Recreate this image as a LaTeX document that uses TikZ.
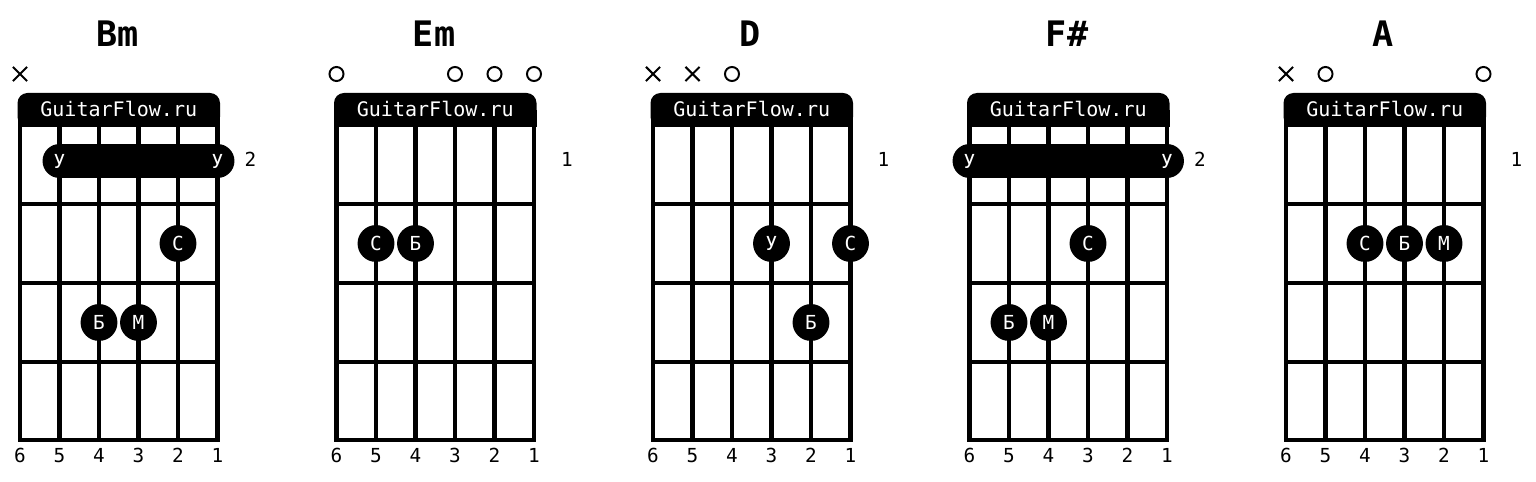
\documentclass[tikz,border=0pt]{standalone}
\usepackage{fontspec}
\setmonofont{DejaVu Sans Mono}
\usetikzlibrary{positioning}
\usetikzlibrary{shapes}

\tikzset{
  fretline/.style={black, line width=2.83pt, line cap=rect},
  finger/.style={circle, fill=black, text=white, inner sep=0pt, minimum size=21pt, font=\ttfamily\fontsize{11}{13}\selectfont},
  barre/.style={black, line width=19.3pt, line cap=round},
  barlabel/.style={text=white, inner sep=0pt, font=\ttfamily\fontsize{11}{13}\selectfont},
  open/.style={circle, draw=black, line width=1.1pt, inner sep=0pt, minimum size=8pt},
  mute/.style={cross out, draw=black, line width=1.2pt, inner sep=0pt, minimum size=6.8pt},
  chordname/.style={anchor=base, font=\ttfamily\bfseries\fontsize{20}{24}\selectfont},
  small/.style={anchor=base, inner sep=0pt, font=\ttfamily\fontsize{11}{13}\selectfont}
}

\begin{document}
\begin{tikzpicture}[x=0.02cm, y=-0.02cm]
\useasboundingbox (0,0) rectangle (1536,482);

%grids
\foreach \o/\name/\fret [count=\i] in {20/Bm/2, 336.5/Em/1, 653/D/1, 969.5/F\#/2, 1286/A/1} {
  \begin{scope}[shift={(\o,0)}]
    %strings
    \foreach \x in {0,39.5,...,197.5}
      \draw[fretline] (\x,120) -- (\x,440);
    %frets
    \foreach \y in {204,283,362,440}
      \draw[fretline] (0,\y) -- (197.5,\y);
    %header
    \fill[black, rounded corners=5.7pt] (-2.5,93) rectangle (200,127);
    \fill[black] (-2.5,110) rectangle (200,127);
    \node[small, text=white, font=\ttfamily\fontsize{11.4}{13}\selectfont] (brand-\i) at (98.75,117) {GuitarFlow.ru};
    %name and fret number
    \node[chordname] (title-\i) at (97.5,47) {\name};
    \node[small] (fret-\i) at (230.5,166.5) {\fret};
    %string numbers
    \foreach \s in {1,...,6}
      \node[small] (num-\i-\s) at ({(6-\s)*39.5},463) {\s};
  \end{scope}
}

%Bm
\begin{scope}[shift={(20,0)}]
\node[mute] (bm-x6) at (0,74) {};
\draw[barre] (39.5,161) -- (197.5,161);
\node[barlabel] (bm-y5) at (39.5,161) {У};
\node[barlabel] (bm-y1) at (197.5,161) {У};
\node[finger] (bm-c) at (158,243.5) {С};
\node[finger] (bm-b) at (79,322.5) {Б};
\node[finger] (bm-m) at (118.5,322.5) {М};
\end{scope}

%Em
\begin{scope}[shift={(336.5,0)}]
\node[open] (em-o6) at (0,74) {};
\node[open] (em-o3) at (118.5,74) {};
\node[open] (em-o2) at (158,74) {};
\node[open] (em-o1) at (197.5,74) {};
\node[finger] (em-c) at (39.5,243.5) {С};
\node[finger] (em-b) at (79,243.5) {Б};
\end{scope}

%D
\begin{scope}[shift={(653,0)}]
\node[mute] (d-x6) at (0,74) {};
\node[mute] (d-x5) at (39.5,74) {};
\node[open] (d-o4) at (79,74) {};
\node[finger] (d-y) at (118.5,243.5) {У};
\node[finger] (d-c) at (197.5,243.5) {С};
\node[finger] (d-b) at (158,322.5) {Б};
\end{scope}

%F#
\begin{scope}[shift={(969.5,0)}]
\draw[barre] (0,161) -- (197.5,161);
\node[barlabel] (fs-y6) at (0,161) {У};
\node[barlabel] (fs-y1) at (197.5,161) {У};
\node[finger] (fs-c) at (118.5,243.5) {С};
\node[finger] (fs-b) at (39.5,322.5) {Б};
\node[finger] (fs-m) at (79,322.5) {М};
\end{scope}

%A
\begin{scope}[shift={(1286,0)}]
\node[mute] (a-x6) at (0,74) {};
\node[open] (a-o5) at (39.5,74) {};
\node[open] (a-o1) at (197.5,74) {};
\node[finger] (a-c) at (79,243.5) {С};
\node[finger] (a-b) at (118.5,243.5) {Б};
\node[finger] (a-m) at (158,243.5) {М};
\end{scope}

\end{tikzpicture}
\end{document}
